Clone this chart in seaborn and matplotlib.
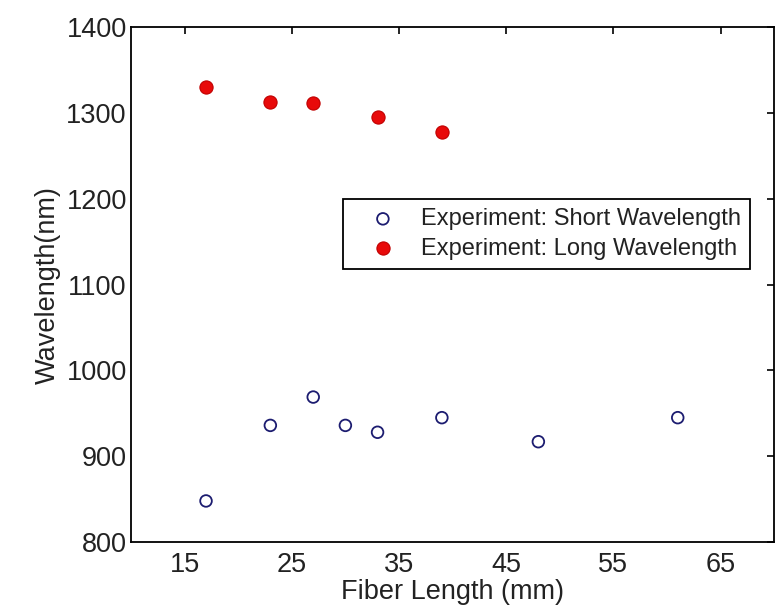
import matplotlib
matplotlib.use("Agg")
import matplotlib.pyplot as plt
import seaborn as sns
import pandas as pd

# Data
short_len = [17, 23, 27, 30, 33, 39, 48, 61]
short_wl = [848, 936, 969, 936, 928, 945, 917, 945]
long_len = [17, 23, 27, 33, 39]
long_wl = [1330, 1313, 1311, 1295, 1278]
x_ticks = [15, 25, 35, 45, 55, 65]
y_ticks = [800, 900, 1000, 1100, 1200, 1300, 1400]

sns.set_theme(style="white")
plt.rcParams['font.family'] = ['Liberation Sans', 'DejaVu Sans']
plt.rcParams['xtick.direction'] = 'in'
plt.rcParams['ytick.direction'] = 'in'

text_col = '#222222'

fig = plt.figure(figsize=(7.75, 6.14), dpi=100)
ax = fig.add_axes([0.169, 0.117, 0.830, 0.839])

df_s = pd.DataFrame({"len": short_len, "wl": short_wl})
df_l = pd.DataFrame({"len": long_len, "wl": long_wl})

sns.scatterplot(data=df_s, x="len", y="wl", ax=ax, marker="o", s=70,
                facecolors="none", edgecolor="#1c1c70", linewidth=1.3,
                label="Experiment: Short Wavelength")
sns.scatterplot(data=df_l, x="len", y="wl", ax=ax, marker="o", s=90,
                color="#e80a0a", edgecolor="#c00000", linewidth=0.8,
                label="Experiment: Long Wavelength")

ax.set_xlim(10, 70)
ax.set_ylim(800, 1400)
ax.set_xticks(x_ticks)
ax.set_yticks(y_ticks)
ax.tick_params(axis='both', which='both', direction='in', length=5, width=1.2,
               top=True, right=True, labelsize=19.5, colors='black',
               labelcolor=text_col)
ax.tick_params(axis='x', pad=7)
ax.tick_params(axis='y', pad=3)
for sp in ax.spines.values():
    sp.set_visible(True)
    sp.set_color('black')
    sp.set_linewidth(1.3)

ax.set_xlabel("Fiber Length (mm)", fontsize=19.5, labelpad=1, color=text_col)
ax.set_ylabel("Wavelength(nm)", fontsize=19.5, labelpad=4, color=text_col)

leg = ax.legend(loc="upper left", bbox_to_anchor=(0.33, 0.666), borderaxespad=0,
                fontsize=17, frameon=True, fancybox=False, handletextpad=0.3,
                borderpad=0.38, labelspacing=0.32, handlelength=2.6)
leg.get_frame().set_edgecolor('black')
leg.get_frame().set_linewidth(1.3)
leg.get_frame().set_alpha(1)
for t in leg.get_texts():
    t.set_color(text_col)

fig.savefig("out.png", dpi=100)
